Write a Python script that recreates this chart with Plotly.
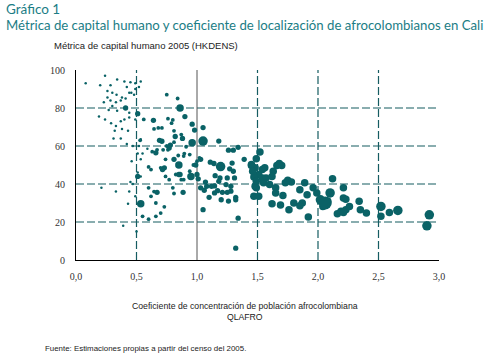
import plotly.graph_objects as go

# ---------------- data ----------------
# tiny points (very small districts)
qlafro_xs = [0.08,0.24,0.20,0.285,0.34,0.40,0.45,0.49,0.535,0.42,
             0.457,0.44,0.48,0.49,0.52,0.26,0.30,0.335,0.38,0.41,
             0.26,0.285,0.33,0.37,0.23,0.27,0.30,0.34,0.19,0.24,
             0.29,0.33,0.37,0.40,0.44,0.44,0.49,0.32,0.38,0.43,
             0.31,0.37,0.42,0.47,0.535,0.52,0.21,0.33,0.44,0.43,
             0.45,0.47,0.49,0.39,0.50,0.51,0.535,0.46,0.535,0.51,
             0.55,0.59]
hk_xs = [93,97,92,92,95,94,93.5,93,94,91,
         88,88,87,90,91,89,88,87,85.5,85,
         85.5,84,83,84,83,79,81,78.5,75.5,74,
         72,70.5,73,74,75,77.5,74,68,69,68,
         64,64,61,60,63.5,60,38,36,36,29.6,
         41,40,33.5,18,15,46,44,52,53,56,
         56,58.5]

# small points
qlafro_s = [0.55,0.60,0.66,0.70,0.73,0.62,0.60,0.66,0.645,0.60,
            0.62,0.63,0.67,0.645,0.68,0.71,0.72,0.74,0.75,0.56,
            0.84,0.76,0.80,0.79,0.81,0.75,0.81,0.76,0.87,0.845,
            0.895,0.91,0.94,0.89,0.825,0.87,0.70,0.94,0.89,0.81,
            0.80,0.74,0.77,0.97,1.00,1.02,0.53]
hk_s = [23,21.5,23,24.7,28,33.5,38,30,36,49,
        47.6,57,58,69,69.5,69.5,58,53,87,74,
        85,74.4,73.7,72,68,60,62,58,66,55,
        56,59.6,55.5,54.7,45,42.3,48.5,46.7,42.3,35,
        38,44,42.3,50,52,53.8,63]

# medium points
qlafro_m = [0.41,0.51,0.64,0.51,0.66,0.69,0.71,0.90,0.77,0.78,
            0.82,0.88,0.96,0.98,0.81,0.85,0.73,0.715,0.885,0.86,
            0.99,1.00,1.01,1.05,1.18,1.11,1.14,1.27,1.26,1.30,
            1.34,1.39,1.29,1.30,1.31,1.25,1.19,1.18,1.24,1.28,
            1.145,1.12,1.07,1.08,1.03,1.06,1.145,1.17,1.21,1.25,
            1.28,1.10,1.20,1.26,1.32,1.32,1.05,1.34,1.32,1.15,
            1.03,0.67]
hk_m = [80,77,73.5,44,56.4,63,62.5,75.5,59,60.5,
        65,64,71.5,68.4,53,45,48.5,47.6,35.6,45,
        50,45,42.7,69.7,62.6,51.5,50.8,48,57.8,57.8,
        59.3,53,51,46.7,43.2,43.2,43.2,41.4,39.7,38.8,
        39,38.8,41,38.8,38,36.7,35.3,36.5,35.6,35.6,
        36.2,33,31.7,31,33,31.7,26.5,22,6.2,44.4,
        53,35.6]

# large points
qlafro_l = [0.86,0.535,0.95,0.96,0.85,1.49,1.52,1.49,1.45,1.48,
            1.54,1.56,1.51,1.47,1.54,1.57,1.63,1.66,1.70,1.68,
            1.62,1.48,1.55,1.49,1.60,1.65,1.65,1.47,1.51,1.62,
            1.69,1.71,1.75,1.78,1.73,1.80,1.76,1.85,1.87,1.85,
            1.89,1.91,1.92,1.96,1.99,2.04,2.08,2.12,2.16,2.19,
            2.21,2.21,2.23,2.23,2.21,2.26,2.34,2.35,2.40,2.52,
            2.59,1.45,1.46]
hk_l = [80,29.6,44,61.7,50,38,56.8,53.3,49.7,48.5,
        47.6,48.5,45,43.7,43.2,43.2,46.7,49.7,49.7,50.8,
        44,38.8,40.6,41.4,39.7,38,35.3,33.5,33.5,29.6,
        29,33.9,42,41,40.6,30,26.5,37,30,28.6,
        40.6,34.4,22.6,38,35.3,28.2,31,42.7,24.3,25.6,
        38,32.6,32,26.5,25,28.2,30.9,26.5,24.7,23,
        25,50.3,46.7]

# extra-large points
qlafro_xl = [1.05,1.195,2.52,2.66,2.92,2.90,2.02,2.10]
hk_xl = [62.6,49.2,28.2,26.1,23.8,18,31.7,35.3]

# huge point
qlafro_h = [2.06]
hk_h = [30]

x_ticks = [0, 0.5, 1.0, 1.5, 2.0, 2.5, 3.0]
x_tick_labels = ["0,0", "0,5", "1,0", "1,5", "2,0", "2,5", "3,0"]
y_ticks = [0, 20, 40, 60, 80, 100]
x_grid = [0.5, 1.5, 2.0, 2.5]
y_grid = [20, 40, 60, 80]

# ---------------- figure ----------------
TEAL = "#0a6266"
GRID = "#155c61"

fig = go.Figure()
groups = [(qlafro_xs, hk_xs, 2.5), (qlafro_s, hk_s, 3.8), (qlafro_m, hk_m, 5.3),
          (qlafro_l, hk_l, 7.5), (qlafro_xl, hk_xl, 9.5), (qlafro_h, hk_h, 13)]
for gx, gy, sz in groups:
    fig.add_trace(go.Scatter(x=gx, y=gy, mode="markers",
                             marker=dict(color=TEAL, size=sz, line=dict(width=0)),
                             showlegend=False, hoverinfo="x+y"))

shapes = []
for gy in y_grid:
    shapes.append(dict(type="line", xref="x", yref="y", x0=0, x1=3, y0=gy, y1=gy,
                       line=dict(color=GRID, width=1.2, dash="8px,3px"), layer="below"))
for gx in x_grid:
    shapes.append(dict(type="line", xref="x", yref="y", x0=gx, x1=gx, y0=0, y1=100,
                       line=dict(color=GRID, width=1.2, dash="8px,3px"), layer="below"))
shapes.append(dict(type="line", xref="x", yref="y", x0=1.0, x1=1.0, y0=0, y1=100,
                   line=dict(color="#555555", width=1), layer="below"))

W, H = 496, 362
L, R, T, B = 76, 57, 70, 102
PW, PH = W - L - R, H - T - B
def px(xp): return (xp - L) / PW
def py(yp): return (H - B - yp) / PH

annotations = [
    dict(text="Gráfico 1", x=px(4), y=py(9), xanchor="left", yanchor="middle",
         font=dict(family="Lato, Open Sans, sans-serif", size=13.5, color="#1b7d85")),
    dict(text="Métrica de capital humano y coeficiente de localización de afrocolombianos en Cali",
         x=px(4), y=py(25), xanchor="left", yanchor="middle",
         font=dict(family="Lato, Open Sans, sans-serif", size=13.2, color="#1b7d85")),
    dict(text="Métrica de capital humano 2005 (HKDENS)", x=px(52), y=py(45),
         xanchor="left", yanchor="middle",
         font=dict(family="Liberation Sans Narrow, Liberation Sans, sans-serif", size=9.5, color="#222")),
    dict(text="Coeficiente de concentración de población afrocolombiana<br>QLAFRO",
         x=px(245), y=py(311), xanchor="center", yanchor="middle",
         font=dict(family="Liberation Sans Narrow, Liberation Sans, sans-serif", size=8.7, color="#222")),
    dict(text="Fuente: Estimaciones propias a partir del censo del 2005.", x=px(43), y=py(348),
         xanchor="left", yanchor="middle",
         font=dict(family="Liberation Sans, sans-serif", size=7.9, color="#222")),
]
for a in annotations:
    a.update(xref="paper", yref="paper", showarrow=False)

fig.update_layout(
    width=W, height=H,
    margin=dict(l=L, r=R, t=T, b=B),
    paper_bgcolor="white", plot_bgcolor="white",
    shapes=shapes, annotations=annotations,
    xaxis=dict(range=[0, 3], tickvals=x_ticks, ticktext=x_tick_labels,
               showgrid=False, zeroline=False, showline=True, linecolor="black",
               linewidth=1.2, ticks="", ticklabelstandoff=7,
               tickfont=dict(family="Liberation Serif, serif", size=10, color="#333")),
    yaxis=dict(range=[0, 100], tickvals=y_ticks,
               showgrid=False, zeroline=False, showline=True, linecolor="black",
               linewidth=1.2, ticks="", ticklabelstandoff=8,
               tickfont=dict(family="Liberation Serif, serif", size=10, color="#333")),
)

fig.write_html("out.html", config={"displayModeBar": False},
               post_script="document.body.style.margin='0';document.body.style.overflow='hidden';")
